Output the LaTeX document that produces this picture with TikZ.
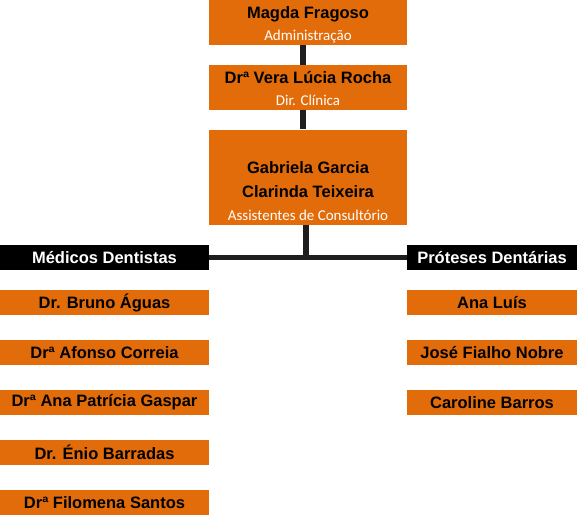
\documentclass[tikz,border=0pt]{standalone}
\usepackage{fontspec}
\setmainfont{Liberation Sans}
\newfontfamily\subfont{Carlito}
\definecolor{orgorange}{RGB}{227,108,10}
\definecolor{linegray}{RGB}{30,30,30}
\begin{document}
\begin{tikzpicture}[x=1pt, y=-1pt,
    box/.style={fill=orgorange, inner sep=0pt},
    head/.style={fill=black, text=white, inner sep=0pt, minimum height=25pt,
        font=\fontsize{16.5}{18}\selectfont\bfseries},
    who/.style={font=\fontsize{16.5}{18}\selectfont\bfseries, anchor=base, inner sep=0pt},
    role/.style={font=\fontsize{15}{17}\subfont, text=white, anchor=base, inner sep=0pt},
    link/.style={draw=linegray, line width=5.5pt}]
        \useasboundingbox (0,0) rectangle (577,515);

        % Direction
        \node[box, minimum width=198pt, minimum height=45pt] (magda) at (308,22.5) {};
        \node[who] (magdaname) at (308,18) {Magda Fragoso};
        \node[role] (magdarole) at (308,40) {Administração};

        \node[box, minimum width=198pt, minimum height=45pt] (vera) at (308,87.5) {};
        \node[who] (veraname) at (308,83) {Drª Vera Lúcia Rocha};
        \node[role] (verarole) at (308,105) {Dir. Clínica};

        \node[box, minimum width=198pt, minimum height=95pt] (assist) at (308,177) {};
        \node[who] (gabriela) at (308,173) {Gabriela Garcia};
        \node[who] (clarinda) at (308,197) {Clarinda Teixeira};
        \node[role] (assistrole) at (308,220) {Assistentes de Consultório};

        % Departments
        \node[head, minimum width=209pt] (medicos) at (104.5,257.5) {Médicos Dentistas};
        \node[head, minimum width=170pt] (proteses) at (492,257.5) {Próteses Dentárias};

        % Links
        \draw[link] ([xshift=-5pt]magda.south) -- ([xshift=-5pt]vera.north);
        \draw[link] ([xshift=-5pt]vera.south) -- ([xshift=-5pt]assist.north);
        \draw[link] ([xshift=-2pt]assist.south) -- ([xshift=-2pt]assist.south |- medicos.east);
        \draw[link] (medicos.east) -- (proteses.west);

        % Dentists
        \foreach \y/\nm [count=\i] in {302.5/{Dr. Bruno Águas}, 352.5/{Drª Afonso Correia},
            402.5/{Drª Ana Patrícia Gaspar}, 452.5/{Dr. Énio Barradas}, 502.5/{Drª Filomena Santos}} {
            \node[box, minimum width=209pt, minimum height=25pt,
                font=\fontsize{16.5}{18}\selectfont\bfseries] (med\i) at (104.5,\y) {\nm};
        }

        % Prosthetics
        \foreach \y/\nm [count=\i] in {302.5/{Ana Luís}, 352.5/{José Fialho Nobre}, 402.5/{Caroline Barros}} {
            \node[box, minimum width=170pt, minimum height=25pt,
                font=\fontsize{16.5}{18}\selectfont\bfseries] (pro\i) at (492,\y) {\nm};
        }
    \end{tikzpicture}
\end{document}
